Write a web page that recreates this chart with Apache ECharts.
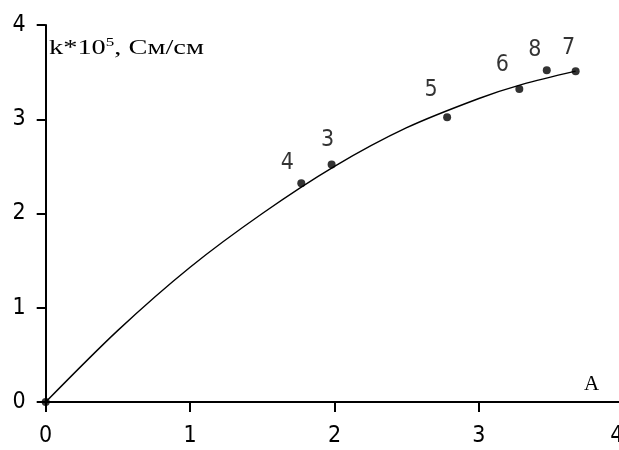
<!DOCTYPE html>
<html><head><meta charset="utf-8">
<script src="https://cdn.jsdelivr.net/npm/echarts@6/dist/echarts.min.js"></script>
<style>html,body{margin:0;padding:0;background:#fff}#c{width:619px;height:450px}</style>
</head><body><div id="c"></div>
<script>
// measured points
const pointX = [0, 1.77, 1.98, 2.78, 3.28, 3.47, 3.67];
const pointY = [0, 2.32, 2.52, 3.02, 3.32, 3.52, 3.51];
const pointNames = ["", "4", "3", "5", "6", "8", "7"];
// fitted curve
const curveX = [0, 0.5, 1, 1.5, 2, 2.5, 3, 3.3, 3.67];
const curveY = [0, 0.76, 1.43, 2.0, 2.5, 2.91, 3.22, 3.37, 3.51];
const xTicks = [0, 1, 2, 3, 4];
const yTicks = [0, 1, 2, 3, 4];

const labelOffsets = {"4":[-14,-20],"3":[-4,-24],"5":[-16,-27],"6":[-17,-24],"8":[-12,-20],"7":[-7,-23]};
const sansN = '"Liberation Sans Narrow","DejaVu Sans Condensed","Liberation Sans",sans-serif';
const serif = '"Liberation Serif","DejaVu Serif",serif';

const chart = echarts.init(document.getElementById('c'), null, {renderer:'canvas'});
chart.setOption({
  backgroundColor:'#fff',
  animation:false,
  graphic:[{
    type:'text', x:49, y:37, scaleX:1.42,
    style:{
      text:'{a|k*10}{s|5}{a|, См/см}',
      rich:{
        a:{fontFamily:serif,fontSize:20,fill:'#000',verticalAlign:'bottom',lineHeight:22},
        s:{fontFamily:serif,fontSize:12,fill:'#000',verticalAlign:'top',lineHeight:22}
      }
    }
  },{
    type:'text', x:584, y:374,
    style:{text:'A', font:'21px '+serif, fill:'#000'}
  }],
  grid:{left:45.7, top:25, width:577.6, height:377, containLabel:false, outerBoundsMode:'none'},
  xAxis:{
    type:'value', min:0, max:4, interval:1,
    axisLine:{show:true,lineStyle:{color:'#000',width:2}},
    axisTick:{show:true,length:10,inside:false,lineStyle:{color:'#000',width:2}},
    axisLabel:{margin:23,color:'#000',fontFamily:sansN,fontSize:23,alignMaxLabel:'right',
      formatter:v=>xTicks.includes(v)?String(v):''},
    splitLine:{show:false}
  },
  yAxis:{
    type:'value', min:0, max:4, interval:1,
    axisLine:{show:true,lineStyle:{color:'#000',width:2}},
    axisTick:{show:true,length:9,inside:false,lineStyle:{color:'#000',width:2}},
    axisLabel:{margin:20,color:'#000',fontFamily:sansN,fontSize:23,
      formatter:v=>yTicks.includes(v)?String(v):''},
    splitLine:{show:false}
  },
  series:[
    {
      type:'line', smooth:0.3, symbol:'none', clip:false,
      lineStyle:{color:'#000',width:1.4},
      data:curveX.map((x,i)=>[x,curveY[i]]),
      z:2
    },
    {
      type:'scatter', symbol:'circle', symbolSize:8, clip:false,
      itemStyle:{color:'#000'},
      data:pointX.map((x,i)=>({
        value:[x,pointY[i]],
        label:{show:pointNames[i]!=='', formatter:pointNames[i],
          offset:labelOffsets[pointNames[i]]||[0,0]}
      })),
      label:{position:'inside',color:'#000',fontFamily:sansN,fontSize:23},
      z:3
    }
  ]
});
</script></body></html>
